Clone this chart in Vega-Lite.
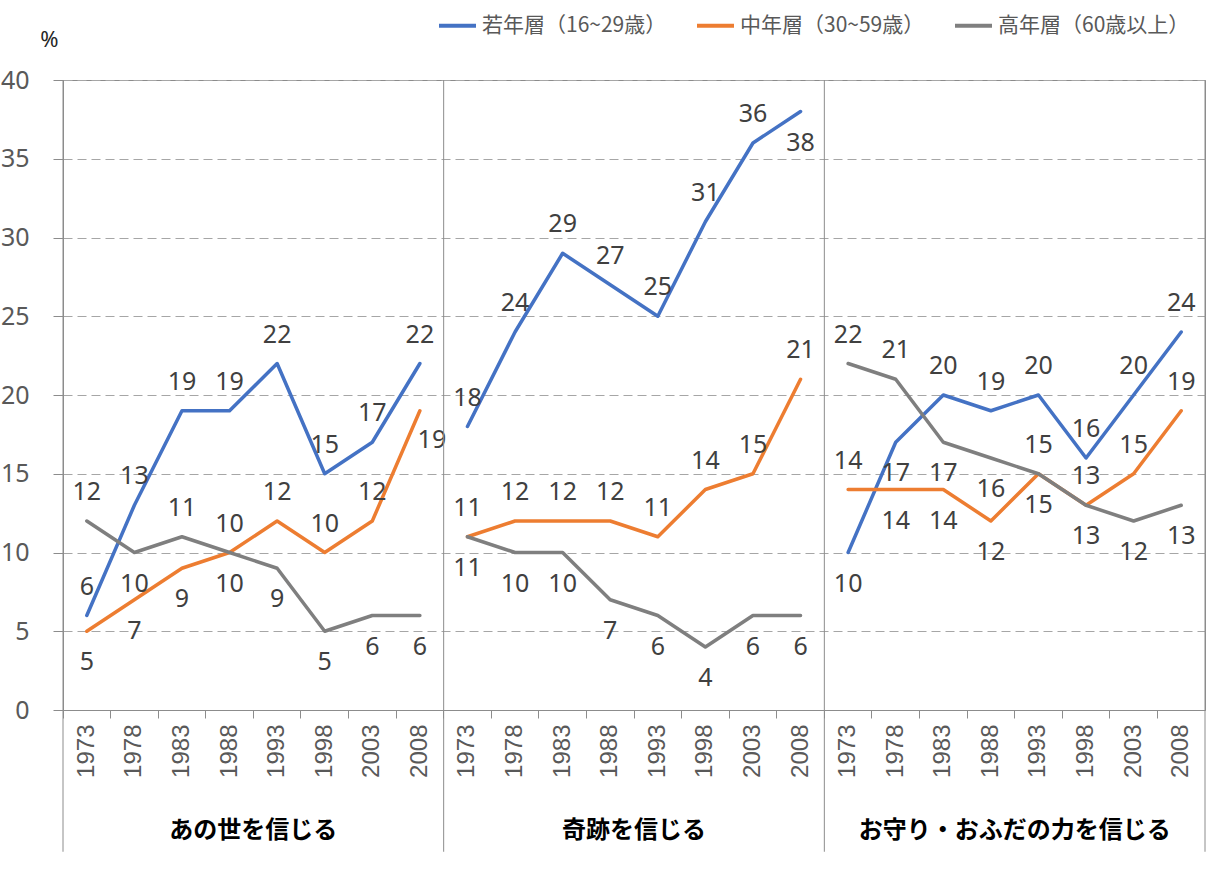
{
  "$schema": "https://vega.github.io/schema/vega-lite/v6.json",
  "width": 1142,
  "height": 630,
  "autosize": {"type": "none"},
  "padding": {"left": 63, "top": 80, "right": 6, "bottom": 159},
  "background": "white",
  "config": {
    "view": {"stroke": "#8c8c8c", "strokeWidth": 1},
    "font": "Noto Sans"
  },
  "data": {
    "values": [
      {"panel": "あの世を信じる", "series": "若年層（16~29歳）", "year": 1973, "value": 6},
      {"panel": "あの世を信じる", "series": "若年層（16~29歳）", "year": 1978, "value": 13},
      {"panel": "あの世を信じる", "series": "若年層（16~29歳）", "year": 1983, "value": 19},
      {"panel": "あの世を信じる", "series": "若年層（16~29歳）", "year": 1988, "value": 19},
      {"panel": "あの世を信じる", "series": "若年層（16~29歳）", "year": 1993, "value": 22},
      {"panel": "あの世を信じる", "series": "若年層（16~29歳）", "year": 1998, "value": 15},
      {"panel": "あの世を信じる", "series": "若年層（16~29歳）", "year": 2003, "value": 17},
      {"panel": "あの世を信じる", "series": "若年層（16~29歳）", "year": 2008, "value": 22},
      {"panel": "奇跡を信じる", "series": "若年層（16~29歳）", "year": 1973, "value": 18},
      {"panel": "奇跡を信じる", "series": "若年層（16~29歳）", "year": 1978, "value": 24},
      {"panel": "奇跡を信じる", "series": "若年層（16~29歳）", "year": 1983, "value": 29},
      {"panel": "奇跡を信じる", "series": "若年層（16~29歳）", "year": 1988, "value": 27},
      {"panel": "奇跡を信じる", "series": "若年層（16~29歳）", "year": 1993, "value": 25},
      {"panel": "奇跡を信じる", "series": "若年層（16~29歳）", "year": 1998, "value": 31},
      {"panel": "奇跡を信じる", "series": "若年層（16~29歳）", "year": 2003, "value": 36},
      {"panel": "奇跡を信じる", "series": "若年層（16~29歳）", "year": 2008, "value": 38},
      {"panel": "お守り・おふだの力を信じる", "series": "若年層（16~29歳）", "year": 1973, "value": 10},
      {"panel": "お守り・おふだの力を信じる", "series": "若年層（16~29歳）", "year": 1978, "value": 17},
      {"panel": "お守り・おふだの力を信じる", "series": "若年層（16~29歳）", "year": 1983, "value": 20},
      {"panel": "お守り・おふだの力を信じる", "series": "若年層（16~29歳）", "year": 1988, "value": 19},
      {"panel": "お守り・おふだの力を信じる", "series": "若年層（16~29歳）", "year": 1993, "value": 20},
      {"panel": "お守り・おふだの力を信じる", "series": "若年層（16~29歳）", "year": 1998, "value": 16},
      {"panel": "お守り・おふだの力を信じる", "series": "若年層（16~29歳）", "year": 2003, "value": 20},
      {"panel": "お守り・おふだの力を信じる", "series": "若年層（16~29歳）", "year": 2008, "value": 24},
      {"panel": "あの世を信じる", "series": "中年層（30~59歳）", "year": 1973, "value": 5},
      {"panel": "あの世を信じる", "series": "中年層（30~59歳）", "year": 1978, "value": 7},
      {"panel": "あの世を信じる", "series": "中年層（30~59歳）", "year": 1983, "value": 9},
      {"panel": "あの世を信じる", "series": "中年層（30~59歳）", "year": 1988, "value": 10},
      {"panel": "あの世を信じる", "series": "中年層（30~59歳）", "year": 1993, "value": 12},
      {"panel": "あの世を信じる", "series": "中年層（30~59歳）", "year": 1998, "value": 10},
      {"panel": "あの世を信じる", "series": "中年層（30~59歳）", "year": 2003, "value": 12},
      {"panel": "あの世を信じる", "series": "中年層（30~59歳）", "year": 2008, "value": 19},
      {"panel": "奇跡を信じる", "series": "中年層（30~59歳）", "year": 1973, "value": 11},
      {"panel": "奇跡を信じる", "series": "中年層（30~59歳）", "year": 1978, "value": 12},
      {"panel": "奇跡を信じる", "series": "中年層（30~59歳）", "year": 1983, "value": 12},
      {"panel": "奇跡を信じる", "series": "中年層（30~59歳）", "year": 1988, "value": 12},
      {"panel": "奇跡を信じる", "series": "中年層（30~59歳）", "year": 1993, "value": 11},
      {"panel": "奇跡を信じる", "series": "中年層（30~59歳）", "year": 1998, "value": 14},
      {"panel": "奇跡を信じる", "series": "中年層（30~59歳）", "year": 2003, "value": 15},
      {"panel": "奇跡を信じる", "series": "中年層（30~59歳）", "year": 2008, "value": 21},
      {"panel": "お守り・おふだの力を信じる", "series": "中年層（30~59歳）", "year": 1973, "value": 14},
      {"panel": "お守り・おふだの力を信じる", "series": "中年層（30~59歳）", "year": 1978, "value": 14},
      {"panel": "お守り・おふだの力を信じる", "series": "中年層（30~59歳）", "year": 1983, "value": 14},
      {"panel": "お守り・おふだの力を信じる", "series": "中年層（30~59歳）", "year": 1988, "value": 12},
      {"panel": "お守り・おふだの力を信じる", "series": "中年層（30~59歳）", "year": 1993, "value": 15},
      {"panel": "お守り・おふだの力を信じる", "series": "中年層（30~59歳）", "year": 1998, "value": 13},
      {"panel": "お守り・おふだの力を信じる", "series": "中年層（30~59歳）", "year": 2003, "value": 15},
      {"panel": "お守り・おふだの力を信じる", "series": "中年層（30~59歳）", "year": 2008, "value": 19},
      {"panel": "あの世を信じる", "series": "高年層（60歳以上）", "year": 1973, "value": 12},
      {"panel": "あの世を信じる", "series": "高年層（60歳以上）", "year": 1978, "value": 10},
      {"panel": "あの世を信じる", "series": "高年層（60歳以上）", "year": 1983, "value": 11},
      {"panel": "あの世を信じる", "series": "高年層（60歳以上）", "year": 1988, "value": 10},
      {"panel": "あの世を信じる", "series": "高年層（60歳以上）", "year": 1993, "value": 9},
      {"panel": "あの世を信じる", "series": "高年層（60歳以上）", "year": 1998, "value": 5},
      {"panel": "あの世を信じる", "series": "高年層（60歳以上）", "year": 2003, "value": 6},
      {"panel": "あの世を信じる", "series": "高年層（60歳以上）", "year": 2008, "value": 6},
      {"panel": "奇跡を信じる", "series": "高年層（60歳以上）", "year": 1973, "value": 11},
      {"panel": "奇跡を信じる", "series": "高年層（60歳以上）", "year": 1978, "value": 10},
      {"panel": "奇跡を信じる", "series": "高年層（60歳以上）", "year": 1983, "value": 10},
      {"panel": "奇跡を信じる", "series": "高年層（60歳以上）", "year": 1988, "value": 7},
      {"panel": "奇跡を信じる", "series": "高年層（60歳以上）", "year": 1993, "value": 6},
      {"panel": "奇跡を信じる", "series": "高年層（60歳以上）", "year": 1998, "value": 4},
      {"panel": "奇跡を信じる", "series": "高年層（60歳以上）", "year": 2003, "value": 6},
      {"panel": "奇跡を信じる", "series": "高年層（60歳以上）", "year": 2008, "value": 6},
      {"panel": "お守り・おふだの力を信じる", "series": "高年層（60歳以上）", "year": 1973, "value": 22},
      {"panel": "お守り・おふだの力を信じる", "series": "高年層（60歳以上）", "year": 1978, "value": 21},
      {"panel": "お守り・おふだの力を信じる", "series": "高年層（60歳以上）", "year": 1983, "value": 17},
      {"panel": "お守り・おふだの力を信じる", "series": "高年層（60歳以上）", "year": 1988, "value": 16},
      {"panel": "お守り・おふだの力を信じる", "series": "高年層（60歳以上）", "year": 1993, "value": 15},
      {"panel": "お守り・おふだの力を信じる", "series": "高年層（60歳以上）", "year": 1998, "value": 13},
      {"panel": "お守り・おふだの力を信じる", "series": "高年層（60歳以上）", "year": 2003, "value": 12},
      {"panel": "お守り・おふだの力を信じる", "series": "高年層（60歳以上）", "year": 2008, "value": 13}
    ]
  },
  "transform": [
    {"calculate": "indexof(['あの世を信じる','奇跡を信じる','お守り・おふだの力を信じる'], datum.panel) + '|' + datum.year", "as": "k"}
  ],
  "layer": [
    {
      "layer": [
        {
          "mark": {"type": "line", "strokeWidth": 3.5, "strokeCap": "round", "strokeJoin": "round"},
          "encoding": {
            "x": {
              "field": "k", "type": "ordinal",
              "scale": {"type": "band", "paddingInner": 0, "paddingOuter": 0},
              "axis": {
                "orient": "bottom", "title": null,
                "labelExpr": "split(datum.label, '|')[1]",
                "labelAngle": -90, "labelFont": "Liberation Sans", "labelFontSize": 24,
                "labelColor": "#595959", "labelPadding": 6,
                "tickSize": 8, "tickColor": "#8c8c8c", "domainColor": "#8c8c8c",
                "bandPosition": 0, "grid": false
              }
            },
            "y": {
              "field": "value", "type": "quantitative",
              "scale": {"domain": [0, 40]},
              "axis": {
                "title": "%", "titleAngle": 0, "titleX": -14, "titleY": -41,
                "titleAlign": "center", "titleBaseline": "middle",
                "titleFont": "Noto Sans", "titleFontSize": 22, "titleFontWeight": "normal", "titleColor": "#262626",
                "values": [0, 5, 10, 15, 20, 25, 30, 35, 40],
                "labelFont": "Noto Sans", "labelFontSize": 25, "labelColor": "#595959", "labelPadding": 24,
                "tickSize": 10, "tickColor": "#8c8c8c", "domainColor": "#8c8c8c",
                "grid": true, "gridColor": "#a6a6a6", "gridDash": [9, 5], "gridWidth": 1.2
              }
            },
            "color": {
              "field": "series", "type": "nominal",
              "scale": {
                "domain": ["若年層（16~29歳）", "中年層（30~59歳）", "高年層（60歳以上）"],
                "range": ["#4472C4", "#ED7D31", "#7F7F7F"]
              },
              "legend": {
                "orient": "none", "legendX": 374, "legendY": -75, "direction": "horizontal",
                "title": null, "symbolType": "stroke", "symbolSize": 1369, "symbolStrokeWidth": 4,
                "labelFont": "Noto Sans CJK JP", "labelFontSize": 21, "labelColor": "#595959",
                "labelOffset": 4, "columnPadding": 22, "labelLimit": 400
              }
            },
            "detail": {"field": "panel"}
          }
        },
        {
          "transform": [
            {"filter": "!((datum.panel==='あの世を信じる'&&((datum.series==='中年層（30~59歳）'&&indexof([1973,1978,1983,1988,2008],datum.year)>=0)||(datum.series==='高年層（60歳以上）'&&indexof([1978,1993,1998,2003,2008],datum.year)>=0)))||(datum.panel==='奇跡を信じる'&&((datum.series==='若年層（16~29歳）'&&datum.year===2008)||datum.series==='高年層（60歳以上）'))||(datum.panel==='お守り・おふだの力を信じる'&&((datum.series==='若年層（16~29歳）'&&datum.year<=1978)||(datum.series==='中年層（30~59歳）'&&indexof([1978,1983,1988,1998],datum.year)>=0)||(datum.series==='高年層（60歳以上）'&&indexof([1983,1988,1993,2003,2008],datum.year)>=0))))"}
          ],
          "mark": {"type": "text", "dy": -29, "font": "Noto Sans", "fontSize": 25, "fill": "#404040"},
          "encoding": {
            "x": {"field": "k", "type": "ordinal"},
            "y": {"field": "value", "type": "quantitative"},
            "text": {"field": "value", "type": "quantitative"}
          }
        },
        {
          "transform": [
            {"filter": "(datum.panel==='あの世を信じる'&&((datum.series==='中年層（30~59歳）'&&indexof([1973,1978,1983,1988],datum.year)>=0)||(datum.series==='高年層（60歳以上）'&&indexof([1978,1993,1998,2003,2008],datum.year)>=0)))||(datum.panel==='奇跡を信じる'&&((datum.series==='若年層（16~29歳）'&&datum.year===2008)||datum.series==='高年層（60歳以上）'))||(datum.panel==='お守り・おふだの力を信じる'&&((datum.series==='若年層（16~29歳）'&&datum.year<=1978)||(datum.series==='中年層（30~59歳）'&&indexof([1978,1983,1988,1998],datum.year)>=0)||(datum.series==='高年層（60歳以上）'&&indexof([1983,1988,1993,2003,2008],datum.year)>=0)))"}
          ],
          "mark": {"type": "text", "dy": 31, "font": "Noto Sans", "fontSize": 25, "fill": "#404040"},
          "encoding": {
            "x": {"field": "k", "type": "ordinal"},
            "y": {"field": "value", "type": "quantitative"},
            "text": {"field": "value", "type": "quantitative"}
          }
        },
        {
          "transform": [
            {"filter": "datum.panel==='あの世を信じる'&&datum.series==='中年層（30~59歳）'&&datum.year===2008"}
          ],
          "mark": {"type": "text", "dy": 29, "dx": 12, "font": "Noto Sans", "fontSize": 25, "fill": "#404040"},
          "encoding": {
            "x": {"field": "k", "type": "ordinal"},
            "y": {"field": "value", "type": "quantitative"},
            "text": {"field": "value", "type": "quantitative"}
          }
        }
      ]
    },
    {
      "layer": [
        {
          "transform": [{"filter": "datum.year===1973 && datum.series==='若年層（16~29歳）'"}],
          "mark": {"type": "rule", "color": "#8c8c8c", "strokeWidth": 1},
          "encoding": {
            "x": {
              "field": "panel", "type": "nominal",
              "scale": {"type": "band", "paddingInner": 0, "paddingOuter": 0, "domain": ["あの世を信じる", "奇跡を信じる", "お守り・おふだの力を信じる"]},
              "bandPosition": 0,
              "axis": {
                "orient": "bottom", "title": null, "ticks": false, "domain": false, "grid": false,
                "labelPadding": 120, "labelBaseline": "middle", "labelAngle": 0,
                "labelFont": "Noto Sans CJK JP", "labelFontSize": 24, "labelFontWeight": "bold",
                "labelColor": "#000000", "labelLimit": 400
              }
            },
            "y": {"datum": 40, "type": "quantitative"},
            "y2": {"datum": -9}
          }
        },
        {
          "transform": [{"filter": "datum.year===1973 && datum.series==='若年層（16~29歳）' && datum.panel==='お守り・おふだの力を信じる'"}],
          "mark": {"type": "rule", "color": "#8c8c8c", "strokeWidth": 1},
          "encoding": {
            "x": {"field": "panel", "type": "nominal", "bandPosition": 1},
            "y": {"datum": 40, "type": "quantitative"},
            "y2": {"datum": -9}
          }
        }
      ]
    }
  ],
  "resolve": {"scale": {"x": "independent"}}
}
